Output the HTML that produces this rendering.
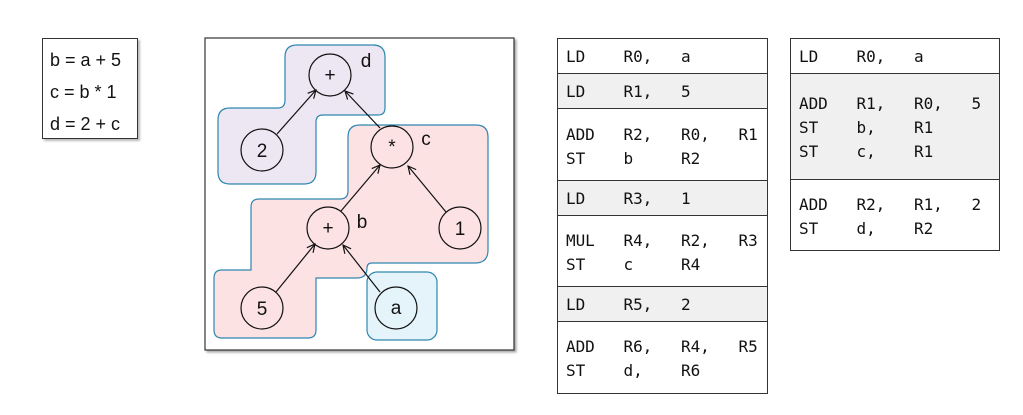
<!DOCTYPE html>
<html><head><meta charset="utf-8"><style>
body{margin:0;width:1023px;height:415px;background:#fff;position:relative;overflow:hidden;font-family:"Liberation Sans",sans-serif}
.box{position:absolute;border:1px solid #333;box-sizing:border-box}
.t{position:absolute;font-family:"DejaVu Sans Mono","Liberation Mono",monospace;font-size:16px;color:#111;white-space:pre;line-height:24px;letter-spacing:-0.05px}
.row{position:absolute;left:0;right:0;border-bottom:1px solid #333;box-sizing:border-box}
</style></head><body>
<div class="box" style="left:42px;top:38px;width:96px;height:101px;box-shadow:2px 2px 2px #bbb;font-size:18px;color:#111">
<div style="position:absolute;left:7px;top:5px;line-height:32px">b = a + 5<br>c = b * 1<br>d = 2 + c</div></div>
<svg style="position:absolute;left:0;top:0" width="1023" height="415">
<defs><marker id="ar" markerWidth="10" markerHeight="10" refX="9" refY="5" orient="auto" markerUnits="userSpaceOnUse"><path d="M1,1 L9,5 L1,9" fill="none" stroke="#111" stroke-width="1.2"/></marker></defs>
<rect x="205" y="38" width="309" height="312" fill="#fff" stroke="#333" stroke-width="1.2" style="filter:drop-shadow(2px 2px 1px #aaa)"/>
<path d="M297,45 L373,45 Q385,45 385,57 L385,108 Q385,115 378,115 L323,115 Q316,115 316,122 L316,172 Q316,184 304,184 L230,184 Q218,184 218,172 L218,120 Q218,108 230,108 L278,108 Q285,108 285,100 L285,57 Q285,45 297,45Z" fill="#ede6f3" stroke="#2f86b0" stroke-width="1.2"/>
<path d="M360,125 L476,125 Q488,125 488,137 L488,250 Q488,263 475,263 L372,263 Q367,263 367,268 Q367,278 357,278 L316,278 L316,330 Q316,338 308,338 L222,338 Q214,338 214,330 L214,278 Q214,270 222,270 L251,270 L251,207 Q251,199 259,199 L340,199 Q348,199 348,191 L348,137 Q348,125 360,125Z" fill="#fde2e4" stroke="#2f86b0" stroke-width="1.2"/>
<rect x="367" y="272" width="70" height="68" rx="10" fill="#e4f4fa" stroke="#2f86b0" stroke-width="1.2"/>
<g stroke="#111" stroke-width="1.2" marker-end="url(#ar)">
<line x1="277" y1="134" x2="316" y2="90"/>
<line x1="380" y1="128" x2="345" y2="91"/>
<line x1="341" y1="211" x2="380" y2="165"/>
<line x1="446" y1="212" x2="408" y2="166"/>
<line x1="276" y1="292" x2="315" y2="244"/>
<line x1="380" y1="292" x2="343" y2="245"/>
</g>
<g fill="none" stroke="#111" stroke-width="1.2">
<circle cx="330" cy="75" r="21"/><circle cx="262" cy="150" r="21"/><circle cx="392" cy="147" r="21"/>
<circle cx="328" cy="228" r="21"/><circle cx="460" cy="228" r="21"/><circle cx="262" cy="308" r="21"/><circle cx="396" cy="308" r="21"/>
</g>
<g font-family="Liberation Sans,sans-serif" font-size="19" fill="#111" text-anchor="middle">
<text x="330" y="81">+</text><text x="262" y="157">2</text><text x="392" y="153">*</text>
<text x="328" y="234">+</text><text x="460" y="235">1</text><text x="262" y="315">5</text><text x="396" y="314">a</text>
<text x="366" y="67">d</text><text x="426" y="145">c</text><text x="362" y="228">b</text>
</g>
</svg>
<div class="box" style="left:557px;top:38px;width:211px;height:356px">
<div class="row" style="top:0;height:35px"></div>
<div class="row" style="top:35px;height:35px;background:#f0f0f0"></div>
<div class="row" style="top:70px;height:72px"></div>
<div class="row" style="top:142px;height:35px;background:#f0f0f0"></div>
<div class="row" style="top:177px;height:71px"></div>
<div class="row" style="top:248px;height:35px;background:#f0f0f0"></div>
<div class="t" style="left:8px;top:6px">LD    R0,   a</div>
<div class="t" style="left:8px;top:41px">LD    R1,   5</div>
<div class="t" style="left:8px;top:84px">ADD   R2,   R0,   R1
ST    b     R2</div>
<div class="t" style="left:8px;top:148px">LD    R3,   1</div>
<div class="t" style="left:8px;top:190px">MUL   R4,   R2,   R3
ST    c     R4</div>
<div class="t" style="left:8px;top:254px">LD    R5,   2</div>
<div class="t" style="left:8px;top:296px">ADD   R6,   R4,   R5
ST    d,    R6</div>
</div>
<div class="box" style="left:790px;top:38px;width:210px;height:213px">
<div class="row" style="top:0;height:35px"></div>
<div class="row" style="top:35px;height:106px;background:#f0f0f0"></div>
<div class="t" style="left:8px;top:6px">LD    R0,   a</div>
<div class="t" style="left:8px;top:53px">ADD   R1,   R0,   5
ST    b,    R1
ST    c,    R1</div>
<div class="t" style="left:8px;top:154px">ADD   R2,   R1,   2
ST    d,    R2</div>
</div>
</body></html>
